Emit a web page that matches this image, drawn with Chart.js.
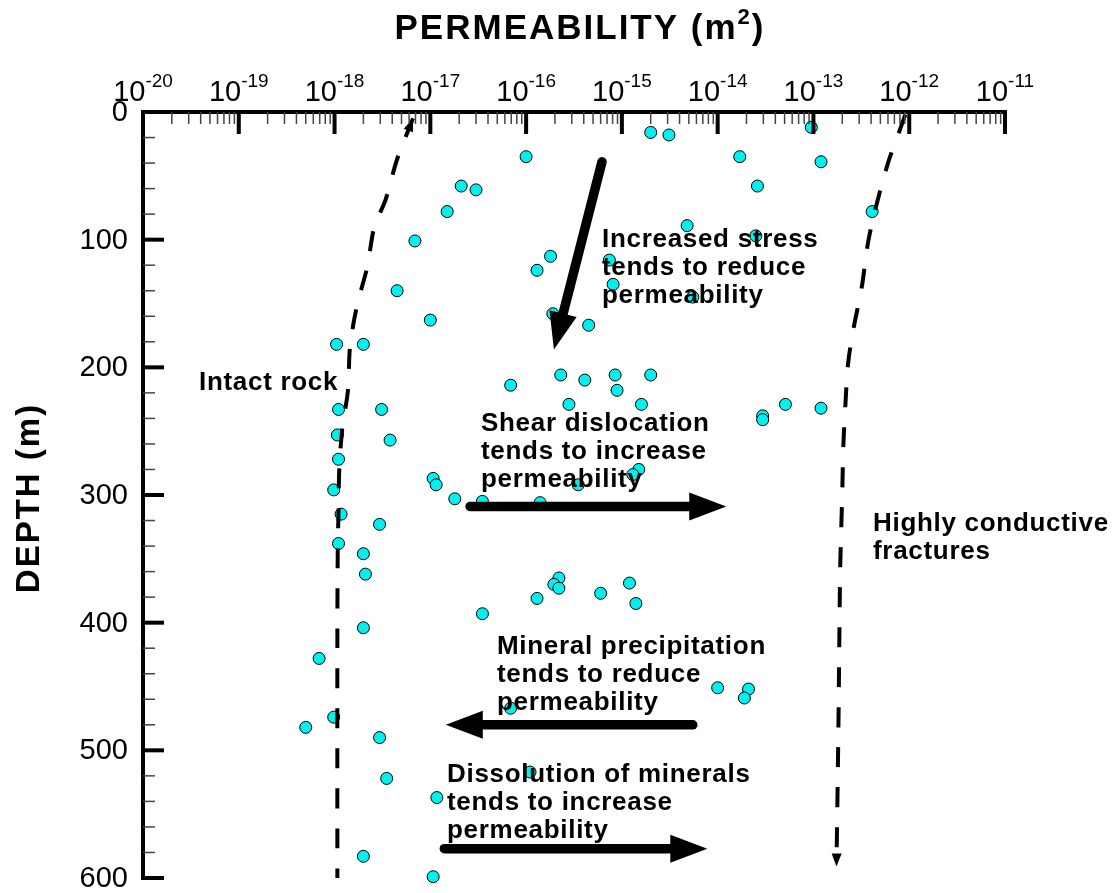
<!DOCTYPE html>
<html>
<head>
<meta charset="utf-8">
<script src="https://cdn.jsdelivr.net/npm/chart.js@4"></script>
<style>
  html, body { margin: 0; padding: 0; background: #fff; }
  #wrap { width: 1112px; height: 893px; }
</style>
</head>
<body>
<div id="wrap"><canvas id="permChart"></canvas></div>
<script>
// measured permeability (m^2) and depth (m)
var permVals = [
  1.0e-16, 2.1e-17, 3.0e-17, 1.5e-17, 6.9e-18, 1.8e-16, 1.3e-16, 4.5e-18, 1.9e-16, 1.0e-17,
  1.05e-18, 2.0e-18, 2.0e-15, 3.1e-15, 9.5e-14, 1.7e-14, 1.2e-13, 2.6e-14, 4.1e-13, 4.8e-15,
  2.5e-14, 7.4e-16, 8.1e-16, 5.5e-15, 4.5e-16, 2.3e-16, 6.9e-17, 2.8e-16, 1.1e-18, 3.1e-18,
  1.07e-18, 3.8e-18, 1.1e-18, 1.07e-17, 1.15e-17, 9.8e-19, 1.8e-17, 3.5e-17, 1.4e-16, 1.17e-18,
  2.95e-18, 1.1e-18, 2.0e-18, 2.1e-18, 2.2e-16, 1.95e-16, 2.2e-16, 1.3e-16, 3.5e-17, 4.1e-16,
  8.5e-16, 2.0e-15, 8.9e-16, 1.6e-15, 2.95e-14, 2.95e-14, 5.1e-14, 1.2e-13, 1.5e-15, 1.3e-15,
  3.5e-16, 6.0e-16, 1.2e-15, 1.4e-15, 2.0e-18, 6.9e-19, 6.9e-17, 9.8e-19, 5.0e-19, 2.95e-18,
  1.1e-16, 3.5e-18, 1.17e-17, 2.0e-18, 1.07e-17, 1.0e-14, 2.1e-14, 1.9e-14
];
var depthVals = [
  35, 58, 61, 78, 101, 113, 124, 140, 158, 163,
  182, 182, 16, 18, 12, 35, 39, 58, 78, 89,
  97, 116, 135, 145, 167, 206, 214, 229, 233, 233,
  253, 257, 272, 287, 292, 296, 303, 305, 306, 315,
  323, 338, 346, 362, 365, 370, 373, 381, 393, 210,
  206, 206, 218, 229, 238, 241, 229, 232, 280, 284,
  292, 377, 369, 385, 404, 428, 467, 474, 482, 490,
  517, 522, 537, 583, 599, 451, 452, 459
];

// envelope curves
var intactPerm  = [6.6e-18, 4.5e-18, 3.4e-18, 2.6e-18, 2.2e-18, 1.7e-18, 1.45e-18, 1.38e-18, 1.2e-18, 1.12e-18, 1.1e-18, 1.08e-18, 1.07e-18, 1.07e-18];
var intactDepth = [5, 37, 69, 90, 121, 153, 184, 218, 249, 280, 312, 343, 408, 600];
var fracPerm  = [9.1e-13, 7.9e-13, 6.0e-13, 4.4e-13, 3.7e-13, 3.2e-13, 2.6e-13, 2.3e-13, 2.15e-13, 2.05e-13, 2.0e-13, 1.95e-13, 1.9e-13, 1.86e-13, 1.82e-13, 1.74e-13];
var fracDepth = [2, 15, 40, 77, 103, 137, 171, 197, 231, 262, 298, 327, 359, 419, 486, 591];

// process arrows: [perm, depth] tail -> head
var arrowTail = [[6.2e-16, 39], [2.6e-17, 309], [5.5e-15, 480], [1.4e-17, 577]];
var arrowHead = [[1.95e-16, 186], [1.23e-14, 309], [1.45e-17, 480], [7.8e-15, 577]];

var xTickExps = [-20, -19, -18, -17, -16, -15, -14, -13, -12, -11];
var yTickVals = [0, 100, 200, 300, 400, 500, 600];

var notes = [
  { lines: ['Intact rock'], x: 199, y: 390 },
  { lines: ['Increased stress', 'tends to reduce', 'permeability'], x: 602, y: 247 },
  { lines: ['Shear dislocation', 'tends to increase', 'permeability'], x: 481, y: 431 },
  { lines: ['Highly conductive', 'fractures'], x: 873, y: 531 },
  { lines: ['Mineral precipitation', 'tends to reduce', 'permeability'], x: 497, y: 654 },
  { lines: ['Dissolution of minerals', 'tends to increase', 'permeability'], x: 447, y: 782 }
];

var FONT = '"Liberation Sans", Arial, sans-serif';

function toXY(xs, ys) {
  return xs.map(function (v, i) { return { x: v, y: ys[i] }; });
}

function arrowTip(ctx, tx, ty, fx, fy, len, half) {
  var a = Math.atan2(ty - fy, tx - fx);
  ctx.beginPath();
  ctx.moveTo(tx, ty);
  ctx.lineTo(tx - len * Math.cos(a) + half * Math.sin(a), ty - len * Math.sin(a) - half * Math.cos(a));
  ctx.lineTo(tx - len * Math.cos(a) - half * Math.sin(a), ty - len * Math.sin(a) + half * Math.cos(a));
  ctx.closePath();
  ctx.fill();
}

var overlay = {
  id: 'overlay',
  afterDatasetsDraw: function (chart) {
    var ctx = chart.ctx;
    var xs = chart.scales.x, ys = chart.scales.y;
    var area = chart.chartArea;
    ctx.save();
    ctx.fillStyle = '#000';
    ctx.strokeStyle = '#000';

    // arrowheads on the envelope curves
    var p0 = [xs.getPixelForValue(intactPerm[0]), ys.getPixelForValue(intactDepth[0])];
    var p1 = [xs.getPixelForValue(intactPerm[1]), ys.getPixelForValue(intactDepth[1])];
    arrowTip(ctx, p0[0], p0[1], p1[0], p1[1], 13, 5);
    var n = fracPerm.length;
    var q0 = [xs.getPixelForValue(fracPerm[n - 1]), ys.getPixelForValue(fracDepth[n - 1])];
    var q1 = [xs.getPixelForValue(fracPerm[n - 2]), ys.getPixelForValue(fracDepth[n - 2])];
    arrowTip(ctx, q0[0], q0[1], q1[0], q1[1], 13, 5);

    // process arrows
    ctx.lineWidth = 9.5;
    ctx.lineCap = 'round';
    arrowTail.forEach(function (t, i) {
      var h = arrowHead[i];
      var tx = xs.getPixelForValue(t[0]), ty = ys.getPixelForValue(t[1]);
      var hx = xs.getPixelForValue(h[0]), hy = ys.getPixelForValue(h[1]);
      var a = Math.atan2(hy - ty, hx - tx);
      ctx.beginPath();
      ctx.moveTo(tx, ty);
      ctx.lineTo(hx - 30 * Math.cos(a), hy - 30 * Math.sin(a));
      ctx.stroke();
      arrowTip(ctx, hx, hy, tx, ty, 37, 14);
    });

    // axis lines
    ctx.lineCap = 'butt';
    ctx.lineWidth = 4;
    ctx.beginPath();
    ctx.moveTo(area.left - 2, area.top);
    ctx.lineTo(area.right + 2, area.top);
    ctx.moveTo(area.left, area.top);
    ctx.lineTo(area.left, area.bottom + 2);
    ctx.stroke();

    // x ticks (top axis, pointing inward)
    xTickExps.forEach(function (e, k) {
      var px = xs.getPixelForValue(Math.pow(10, e));
      ctx.strokeStyle = '#000';
      ctx.lineWidth = 4;
      ctx.beginPath();
      ctx.moveTo(px, area.top);
      ctx.lineTo(px, area.top + 22);
      ctx.stroke();
      if (k < xTickExps.length - 1) {
        ctx.strokeStyle = '#444';
        ctx.lineWidth = 1.5;
        for (var m = 2; m <= 9; m++) {
          var mx = xs.getPixelForValue(m * Math.pow(10, e));
          ctx.beginPath();
          ctx.moveTo(mx, area.top);
          ctx.lineTo(mx, area.top + 12);
          ctx.stroke();
        }
      }
    });

    // y ticks (left axis, pointing inward)
    for (var d = 0; d <= 600; d += 20) {
      var py = ys.getPixelForValue(d);
      var major = d % 100 === 0;
      ctx.strokeStyle = major ? '#000' : '#444';
      ctx.lineWidth = major ? 4 : 1.5;
      ctx.beginPath();
      ctx.moveTo(area.left, py);
      ctx.lineTo(area.left + (major ? 21 : 12), py);
      ctx.stroke();
    }

    // x tick labels: 10 with superscript exponent
    ctx.fillStyle = '#000';
    ctx.textBaseline = 'alphabetic';
    ctx.textAlign = 'left';
    xTickExps.forEach(function (e) {
      var px = xs.getPixelForValue(Math.pow(10, e));
      ctx.font = '29px ' + FONT;
      var w1 = ctx.measureText('10').width;
      ctx.font = '19px ' + FONT;
      var w2 = ctx.measureText(String(e)).width;
      var x0 = px - (w1 + w2) / 2;
      ctx.font = '29px ' + FONT;
      ctx.fillText('10', x0, 101);
      ctx.font = '19px ' + FONT;
      ctx.fillText(String(e), x0 + w1, 87);
    });

    // y tick labels
    ctx.font = '29px ' + FONT;
    ctx.textAlign = 'right';
    ctx.textBaseline = 'middle';
    yTickVals.forEach(function (v) {
      ctx.fillText(String(v), 128, ys.getPixelForValue(v) + 1);
    });

    // annotations
    ctx.font = 'bold 26px ' + FONT;
    ctx.textAlign = 'left';
    ctx.textBaseline = 'alphabetic';
    ctx.letterSpacing = '0.7px';
    notes.forEach(function (nt) {
      nt.lines.forEach(function (s, i) {
        ctx.fillText(s, nt.x, nt.y + i * 28);
      });
    });

    // axis titles
    ctx.letterSpacing = '2px';
    ctx.font = 'bold 35px ' + FONT;
    var t1 = 'PERMEABILITY (m', t2 = '2', t3 = ')';
    var wa = ctx.measureText(t1).width;
    var wc = ctx.measureText(t3).width;
    ctx.font = 'bold 22px ' + FONT;
    var wb = ctx.measureText(t2).width;
    var sx = 580 - (wa + wb + wc) / 2;
    ctx.font = 'bold 35px ' + FONT;
    ctx.fillText(t1, sx, 39);
    ctx.fillText(t3, sx + wa + wb, 39);
    ctx.font = 'bold 22px ' + FONT;
    ctx.fillText(t2, sx + wa, 24);

    ctx.translate(39, 498);
    ctx.rotate(-Math.PI / 2);
    ctx.font = 'bold 33px ' + FONT;
    ctx.textAlign = 'center';
    ctx.fillText('DEPTH (m)', 0, 0);
    ctx.restore();
  }
};

new Chart(document.getElementById('permChart'), {
  type: 'scatter',
  data: {
    datasets: [{
      label: 'Measurements',
      data: toXY(permVals, depthVals),
      pointRadius: 6,
      pointBackgroundColor: '#00f0f0',
      pointBorderColor: '#000',
      pointBorderWidth: 1,
      order: 2
    }, {
      label: 'Intact rock',
      data: toXY(intactPerm, intactDepth),
      showLine: true,
      borderColor: '#000',
      borderWidth: 4,
      borderDash: [20, 20],
      tension: 0.3,
      pointRadius: 0,
      order: 1
    }, {
      label: 'Highly conductive fractures',
      data: toXY(fracPerm, fracDepth),
      showLine: true,
      borderColor: '#000',
      borderWidth: 4,
      borderDash: [20, 20],
      tension: 0.3,
      pointRadius: 0,
      order: 1
    }]
  },
  options: {
    responsive: true,
    maintainAspectRatio: false,
    animation: false,
    layout: { padding: { left: 143, top: 112, right: 107, bottom: 15 } },
    clip: false,
    scales: {
      x: { type: 'logarithmic', min: 1e-20, max: 1e-11, display: false },
      y: { type: 'linear', reverse: true, min: 0, max: 600, display: false }
    },
    plugins: { legend: { display: false }, tooltip: { enabled: false } }
  },
  plugins: [overlay]
});
</script>
</body>
</html>
